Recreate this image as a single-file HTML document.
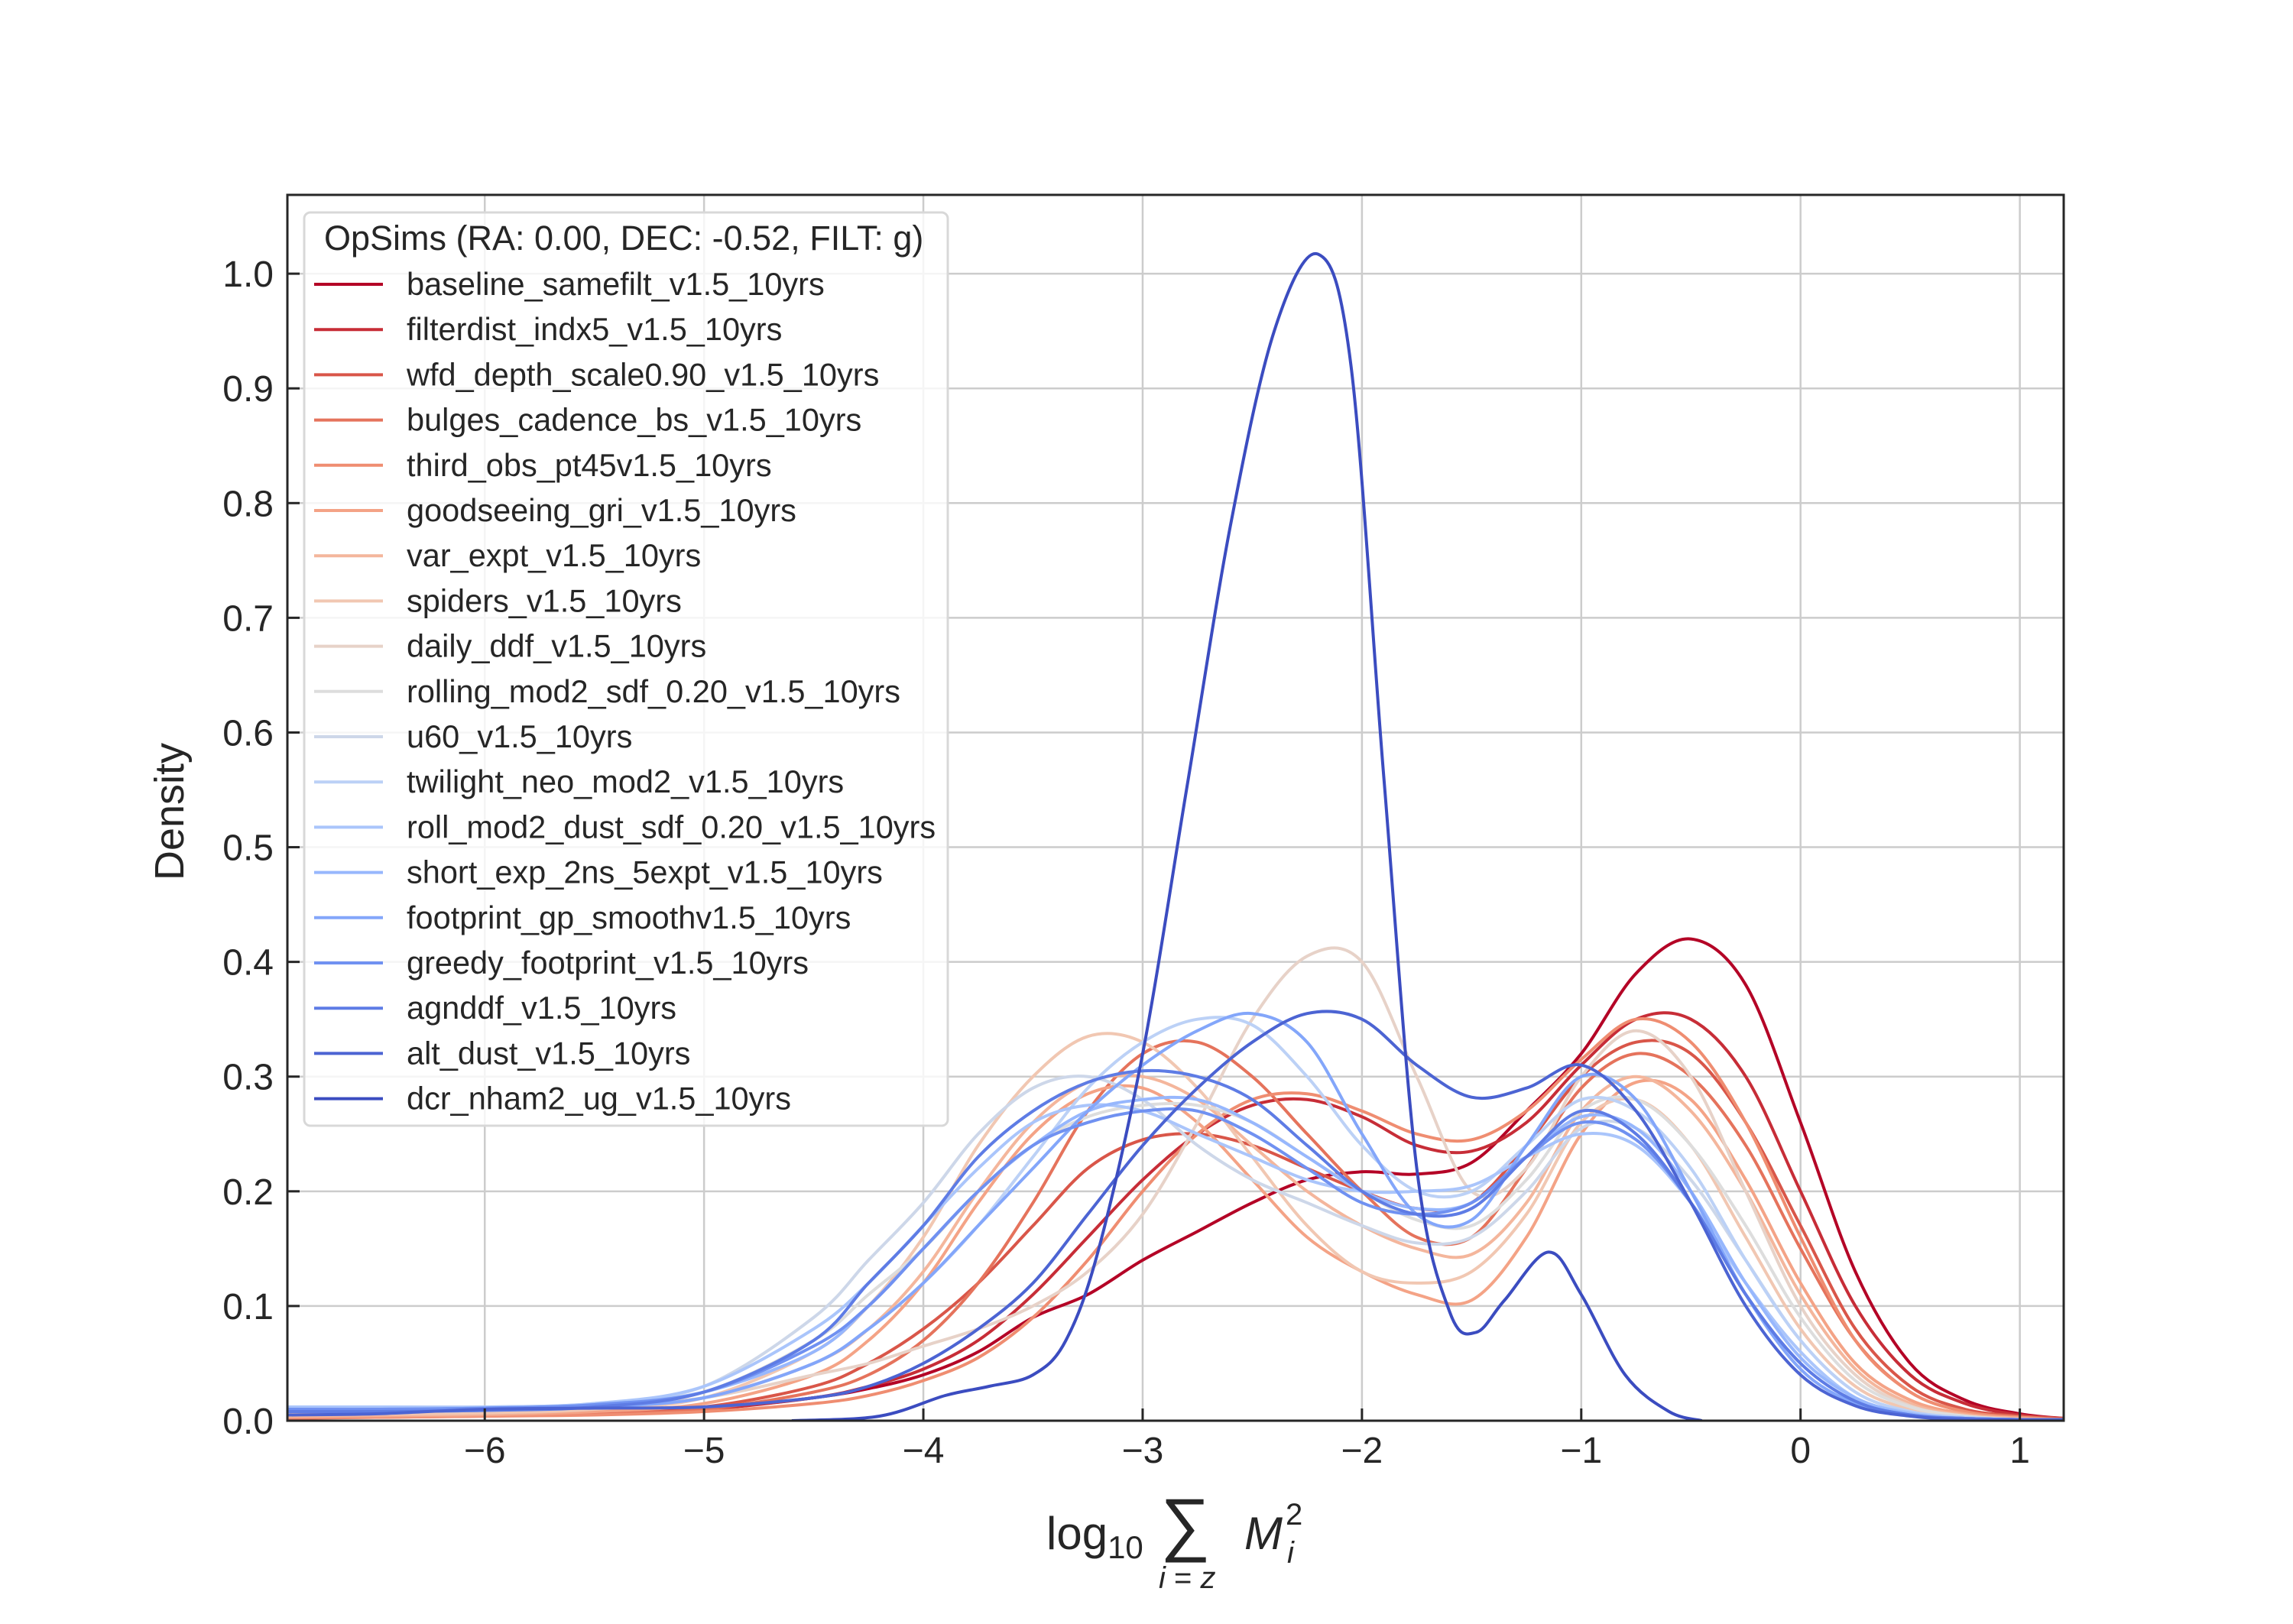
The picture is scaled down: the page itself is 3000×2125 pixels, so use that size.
<!DOCTYPE html>
<html><head><meta charset="utf-8"><style>
html,body{margin:0;padding:0;background:#fff;}
svg{display:block;font-family:"Liberation Sans",Arial,sans-serif;}
</style></head><body>
<svg id="chart" width="3000" height="2125" viewBox="0 0 3000 2125" xmlns="http://www.w3.org/2000/svg">
<rect width="3000" height="2125" fill="#fff"/>
<defs><clipPath id="plotclip"><rect x="376" y="255" width="2324" height="1604"/></clipPath></defs>
<g id="grid"></g>
<g id="curves" clip-path="url(#plotclip)"></g>
<rect x="376" y="255" width="2324" height="1604" fill="none" stroke="#262626" stroke-width="3"/>
<g id="ticks"></g>
<text transform="translate(240,1062) rotate(-90)" text-anchor="middle" font-size="54" fill="#262626">Density</text>
<g fill="#262626">
<text x="1369" y="2027" font-size="60">log<tspan font-size="42" dy="12">10</tspan></text>
<text x="1518" y="2025" font-size="92">∑</text>
<text x="1516" y="2078" font-size="40" font-style="italic">i<tspan font-style="normal"> = </tspan>z</text>
<text x="1628" y="2027" font-size="60" font-style="italic">M</text>
<text x="1682" y="1995" font-size="40">2</text>
<text x="1684" y="2045" font-size="40" font-style="italic">i</text>
</g>
<g id="legend">
<rect x="398" y="278" width="842" height="1195" rx="8" fill="#fff" fill-opacity="0.8" stroke="#d8d8d8" stroke-width="3"/>
<text x="424" y="327" font-size="45" fill="#262626">OpSims (RA: 0.00, DEC: -0.52, FILT: g)</text>
</g>
</svg>
<script>
const xGrid=[-6.9,-6.5,-6,-5.5,-5,-4.5,-4.25,-4,-3.75,-3.5,-3.25,-3,-2.75,-2.5,-2.25,-2,-1.75,-1.5,-1.25,-1,-0.75,-0.5,-0.25,0,0.25,0.5,0.75,1,1.2];
const seriesNames=["baseline_samefilt_v1.5_10yrs","filterdist_indx5_v1.5_10yrs","wfd_depth_scale0.90_v1.5_10yrs","bulges_cadence_bs_v1.5_10yrs","third_obs_pt45v1.5_10yrs","goodseeing_gri_v1.5_10yrs","var_expt_v1.5_10yrs","spiders_v1.5_10yrs","daily_ddf_v1.5_10yrs","rolling_mod2_sdf_0.20_v1.5_10yrs","u60_v1.5_10yrs","twilight_neo_mod2_v1.5_10yrs","roll_mod2_dust_sdf_0.20_v1.5_10yrs","short_exp_2ns_5expt_v1.5_10yrs","footprint_gp_smoothv1.5_10yrs","greedy_footprint_v1.5_10yrs","agnddf_v1.5_10yrs","alt_dust_v1.5_10yrs","dcr_nham2_ug_v1.5_10yrs"];
const s0=[.005,.005,.006,.007,.01,.02,.028,.04,.06,.09,.11,.14,.165,.19,.21,.217,.215,.225,.27,.32,.39,.42,.38,.26,.13,.05,.018,.006,.002];
const s1=[.005,.006,.007,.008,.01,.02,.03,.045,.07,.11,.16,.21,.25,.275,.28,.265,.24,.235,.26,.31,.35,.35,.3,.2,.1,.04,.015,.005,.002];
const s2=[.004,.005,.006,.008,.012,.03,.05,.08,.12,.17,.22,.245,.25,.24,.22,.2,.185,.19,.24,.3,.33,.32,.26,.17,.08,.03,.01,.004,.002];
const s3=[.002,.003,.004,.006,.01,.025,.04,.07,.12,.19,.27,.32,.33,.3,.25,.2,.16,.16,.22,.29,.32,.3,.24,.15,.07,.025,.008,.003,.001];
const s4=[.003,.003,.004,.005,.008,.015,.022,.035,.055,.09,.14,.2,.25,.28,.285,.27,.25,.245,.27,.315,.35,.33,.26,.16,.07,.025,.008,.003,.001];
const s5=[.003,.004,.005,.008,.015,.04,.07,.12,.19,.25,.285,.29,.26,.21,.16,.13,.11,.105,.16,.25,.295,.28,.21,.12,.05,.018,.006,.002,.001];
const s6=[.004,.005,.006,.01,.02,.05,.08,.13,.2,.26,.295,.3,.28,.24,.2,.17,.15,.145,.19,.27,.3,.27,.2,.11,.045,.015,.005,.002,.001];
const s7=[.006,.006,.007,.01,.02,.06,.1,.16,.24,.3,.335,.33,.29,.23,.17,.13,.12,.13,.18,.26,.28,.24,.16,.08,.03,.01,.004,.001,.001];
const s8=[.008,.008,.009,.012,.02,.04,.05,.065,.08,.1,.13,.18,.26,.35,.405,.4,.3,.2,.22,.3,.34,.3,.2,.1,.04,.013,.004,.001,.001];
const s9=[.008,.008,.009,.012,.025,.07,.11,.15,.2,.24,.265,.275,.275,.26,.23,.2,.175,.17,.21,.27,.28,.24,.17,.09,.035,.012,.004,.001,.001];
const s10=[.012,.012,.012,.015,.03,.09,.14,.19,.25,.29,.3,.28,.24,.21,.19,.17,.155,.16,.2,.255,.255,.21,.14,.07,.025,.008,.003,.001,.001];
const s11=[.01,.01,.01,.012,.02,.05,.08,.12,.17,.23,.29,.33,.35,.345,.3,.24,.2,.2,.24,.28,.27,.22,.14,.07,.025,.008,.003,.001,.001];
const s12=[.012,.012,.012,.015,.03,.08,.12,.17,.22,.26,.275,.27,.25,.23,.21,.2,.2,.205,.23,.25,.24,.19,.12,.06,.02,.007,.002,.001,.001];
const s13=[.01,.01,.011,.014,.025,.06,.1,.15,.2,.24,.27,.28,.28,.26,.23,.2,.185,.19,.23,.265,.255,.2,.12,.055,.02,.006,.002,.001,.001];
const s14=[.008,.008,.009,.012,.02,.05,.08,.12,.17,.22,.27,.31,.34,.355,.33,.25,.18,.175,.24,.3,.28,.2,.11,.045,.015,.005,.002,.001,.001];
const s15=[.01,.01,.011,.014,.025,.065,.1,.15,.2,.24,.26,.27,.27,.25,.22,.19,.18,.19,.23,.26,.245,.19,.11,.05,.017,.005,.002,.001,.001];
const s16=[.008,.008,.009,.012,.025,.07,.12,.17,.23,.27,.295,.305,.3,.28,.24,.2,.18,.185,.23,.27,.25,.19,.11,.05,.017,.005,.002,.001,.001];
const s17=[.005,.006,.01,.011,.012,.02,.03,.05,.08,.12,.18,.24,.29,.33,.355,.35,.31,.282,.29,.31,.27,.19,.1,.04,.013,.004,.001,.001,.001];
const dcrX=[-4.6,-4.2,-3.9,-3.7,-3.5,-3.35,-3.2,-3.0,-2.8,-2.6,-2.4,-2.2,-2.05,-1.9,-1.75,-1.6,-1.48,-1.35,-1.15,-1.0,-0.8,-0.6,-0.45];
const dcrY=[0,.004,.022,.03,.04,.07,.15,.32,.55,.78,.95,1.017,.92,.56,.22,.095,.077,.105,.147,.11,.04,.008,0];
const xTicks=[-6,-5,-4,-3,-2,-1,0,1];
const xTickLabels=["−6","−5","−4","−3","−2","−1","0","1"];
const yTicks=[0,0.1,0.2,0.3,0.4,0.5,0.6,0.7,0.8,0.9,1.0];
const yTickLabels=["0.0","0.1","0.2","0.3","0.4","0.5","0.6","0.7","0.8","0.9","1.0"];

const NS="http://www.w3.org/2000/svg";
const X0=376,X1=2700,Y0=1859,Y1=255,xmin=-6.9,xmax=1.2,ymin=0,ymax=1.0687;
function sx(v){return X0+(v-xmin)/(xmax-xmin)*(X1-X0);}
function sy(v){return Y0-(v-ymin)/(ymax-ymin)*(Y0-Y1);}
const anchors=[[0,[59,76,192]],[.125,[98,130,234]],[.25,[141,176,254]],[.375,[184,208,249]],[.5,[221,221,221]],[.625,[244,196,173]],[.75,[244,154,123]],[.875,[222,96,77]],[1,[180,4,38]]];
function cw(t){for(let i=0;i<anchors.length-1;i++){const a=anchors[i],b=anchors[i+1];if(t<=b[0]){const f=(t-a[0])/(b[0]-a[0]);return "rgb("+a[1].map((c,k)=>Math.round(c+(b[1][k]-c)*f)).join(",")+")";}}return "rgb(180,4,38)";}
function pathFrom(xs,ys){const p=xs.map((x,i)=>[sx(x),sy(ys[i])]);let d="M"+p[0][0].toFixed(1)+","+p[0][1].toFixed(1);for(let i=0;i<p.length-1;i++){const a=p[Math.max(0,i-1)],b=p[i],c=p[i+1],e=p[Math.min(p.length-1,i+2)];const c1=[b[0]+(c[0]-a[0])/6,b[1]+(c[1]-a[1])/6],c2=[c[0]-(e[0]-b[0])/6,c[1]-(e[1]-b[1])/6];d+=" C"+c1[0].toFixed(1)+","+c1[1].toFixed(1)+" "+c2[0].toFixed(1)+","+c2[1].toFixed(1)+" "+c[0].toFixed(1)+","+c[1].toFixed(1);}return d;}
const grid=document.getElementById('grid'),ticks=document.getElementById('ticks'),curves=document.getElementById('curves'),legend=document.getElementById('legend');
xTicks.forEach((v,i)=>{
 const g=document.createElementNS(NS,'line');
 
 
 g.setAttribute('x1',sx(v));g.setAttribute('x2',sx(v));g.setAttribute('y1',Y1);g.setAttribute('y2',Y0);g.setAttribute('stroke','#cccccc');g.setAttribute('stroke-width','2.5');grid.appendChild(g);
 const t=document.createElementNS(NS,'line');
 
 
 t.setAttribute('x1',sx(v));t.setAttribute('x2',sx(v));t.setAttribute('y1',Y0);t.setAttribute('y2',Y0-16);t.setAttribute('stroke','#262626');t.setAttribute('stroke-width','3');ticks.appendChild(t);
 const l=document.createElementNS(NS,'text');
 
 
 l.setAttribute('x',sx(v));l.setAttribute('y',1914);l.setAttribute('text-anchor','middle');l.setAttribute('font-size','48');l.setAttribute('fill','#262626');l.textContent=xTickLabels[i];ticks.appendChild(l);
});
yTicks.forEach((v,i)=>{
 const g=document.createElementNS(NS,'line');
 
 
 g.setAttribute('x1',X0);g.setAttribute('x2',X1);g.setAttribute('y1',sy(v));g.setAttribute('y2',sy(v));g.setAttribute('stroke','#cccccc');g.setAttribute('stroke-width','2.5');grid.appendChild(g);
 const t=document.createElementNS(NS,'line');
 
 
 t.setAttribute('x1',X0);t.setAttribute('x2',X0+16);t.setAttribute('y1',sy(v));t.setAttribute('y2',sy(v));t.setAttribute('stroke','#262626');t.setAttribute('stroke-width','3');ticks.appendChild(t);
 const l=document.createElementNS(NS,'text');
 
 
 l.setAttribute('x',358);l.setAttribute('y',sy(v)+17);l.setAttribute('text-anchor','end');l.setAttribute('font-size','48');l.setAttribute('fill','#262626');l.textContent=yTickLabels[i];ticks.appendChild(l);
});
const allSeries=[s0,s1,s2,s3,s4,s5,s6,s7,s8,s9,s10,s11,s12,s13,s14,s15,s16,s17];
const n=seriesNames.length;
seriesNames.forEach((name,i)=>{
 const col=cw(1-i/(n-1));
 const p=document.createElementNS(NS,'path');
 
 
 p.setAttribute('d', i<n-1 ? pathFrom(xGrid,allSeries[i]) : pathFrom(dcrX,dcrY));
 p.setAttribute('fill','none');p.setAttribute('stroke',col);p.setAttribute('stroke-width','4');
 curves.appendChild(p);
 const y=372+i*59.2;
 const h=document.createElementNS(NS,'line');
 
 
 h.setAttribute('x1',411);h.setAttribute('x2',501);h.setAttribute('y1',y);h.setAttribute('y2',y);h.setAttribute('stroke',col);h.setAttribute('stroke-width','4');legend.appendChild(h);
 const t=document.createElementNS(NS,'text');
 
 
 t.setAttribute('x',532);t.setAttribute('y',y+14);t.setAttribute('font-size','41.5');t.setAttribute('fill','#262626');t.textContent=name;legend.appendChild(t);
});
</script>
</body></html>
